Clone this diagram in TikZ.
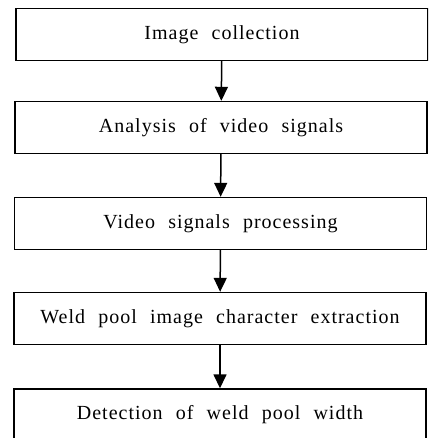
\documentclass[tikz,border=0pt]{standalone}
\usepackage{fontspec}
\setmainfont{Liberation Serif}[WordSpace=2.2,LetterSpace=5]
\usepackage{tikz}
\usetikzlibrary{arrows.meta}
\tikzset{
  stepbox/.style={draw,line width=1.4pt,minimum width=412pt,minimum height=52pt,
    inner sep=0pt,font=\fontsize{20}{22}\selectfont},
  flowline/.style={-{Triangle[length=14pt,width=13pt]},line width=1.5pt}
}

\begin{document}
\begin{tikzpicture}[x=1pt,y=1pt]
    \useasboundingbox (0,0) rectangle (428,-438);
    \clip (0,0) rectangle (428,-438);
    \node[stepbox] (collect) at (222,-34.5) {Image collection};
    \node[stepbox] (analyse) at (221,-127.5) {Analysis of video signals};
    \node[stepbox] (process) at (220.5,-223.5) {Video signals processing};
    \node[stepbox] (extract) at (220,-318.5) {Weld pool image character extraction};
    \node[stepbox] (detect) at (220,-415) {Detection of weld pool width};
    \draw[flowline] (collect) -- (analyse);
    \draw[flowline] (analyse) -- (process);
    \draw[flowline] (process) -- (extract);
    \draw[flowline] (extract) -- (detect);
  \end{tikzpicture}
\end{document}
